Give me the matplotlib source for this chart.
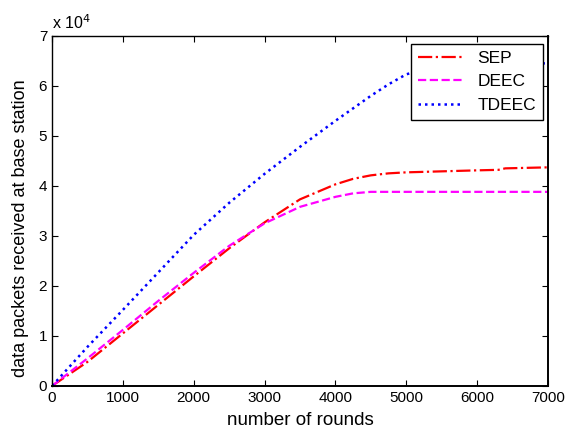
import numpy as np
import matplotlib
matplotlib.use('Agg')
import matplotlib.pyplot as plt
from matplotlib.ticker import FuncFormatter

# 読み取ったデータ (rounds, packets)
rounds = [0, 500, 1000, 1500, 2000, 2500, 3000, 3500, 4000, 4250, 4500,
          4750, 5000, 5250, 5500, 6000, 6300, 6400, 7000]
sep = [0, 4800, 10500, 16200, 21900, 27500, 32700, 37300, 40300, 41400, 42100,
       42500, 42700, 42800, 42900, 43100, 43200, 43500, 43700]
deec = [0, 5500, 11200, 17000, 22600, 28000, 32500, 35800, 37800, 38500, 38800,
        38800, 38800, 38800, 38800, 38800, 38800, 38800, 38800]
tdeec = [0, 7800, 15200, 22700, 30200, 36600, 42400, 47800, 53000, 55500, 58000,
         60300, 62300, 63300, 63800, 64200, 64300, 64400, 64500]

plt.rcParams['font.family'] = ['Liberation Sans', 'DejaVu Sans']

fig = plt.figure(figsize=(5.66, 4.37), dpi=100)
ax = fig.add_axes([0.092, 0.117, 0.876, 0.801])

ax.plot(rounds, sep, color='red', linestyle='-.', linewidth=1.6, label='SEP')
ax.plot(rounds, deec, color='magenta', linestyle='--', linewidth=1.6, label='DEEC')
ax.plot(rounds, tdeec, color='blue', linestyle=(0, (1, 1.6)), linewidth=1.8, label='TDEEC')

ax.set_xlim(0, 7000)
ax.set_ylim(0, 70000)
ax.set_xticks(np.arange(0, 7001, 1000))
ax.set_yticks(np.arange(0, 70001, 10000))
ax.yaxis.set_major_formatter(FuncFormatter(lambda v, p: f'{v / 1e4:g}'))
ax.tick_params(direction='in', top=True, right=True, labelsize=11, length=4)
for s in ax.spines.values():
    s.set_linewidth(1.0)
ax.spines['bottom'].set_linewidth(1.4)
ax.spines['right'].set_linewidth(1.4)

ax.text(0.0, 1.012, r'x 10$^4$', transform=ax.transAxes, fontsize=11.5,
        ha='left', va='bottom')

ax.set_xlabel('number of rounds', fontsize=13.5)
ax.xaxis.set_label_coords(0.5, -0.075)
ax.set_ylabel('data packets received at base station', fontsize=13)
ax.yaxis.set_label_coords(-0.046, 0.45)

leg = ax.legend(loc='upper right', bbox_to_anchor=(0.99, 0.978), fontsize=12.5,
                fancybox=False, framealpha=1, edgecolor='black',
                handlelength=2.6, labelspacing=0.5, borderaxespad=0)
leg.get_frame().set_linewidth(1.0)

plt.savefig('out.png', dpi=100)
